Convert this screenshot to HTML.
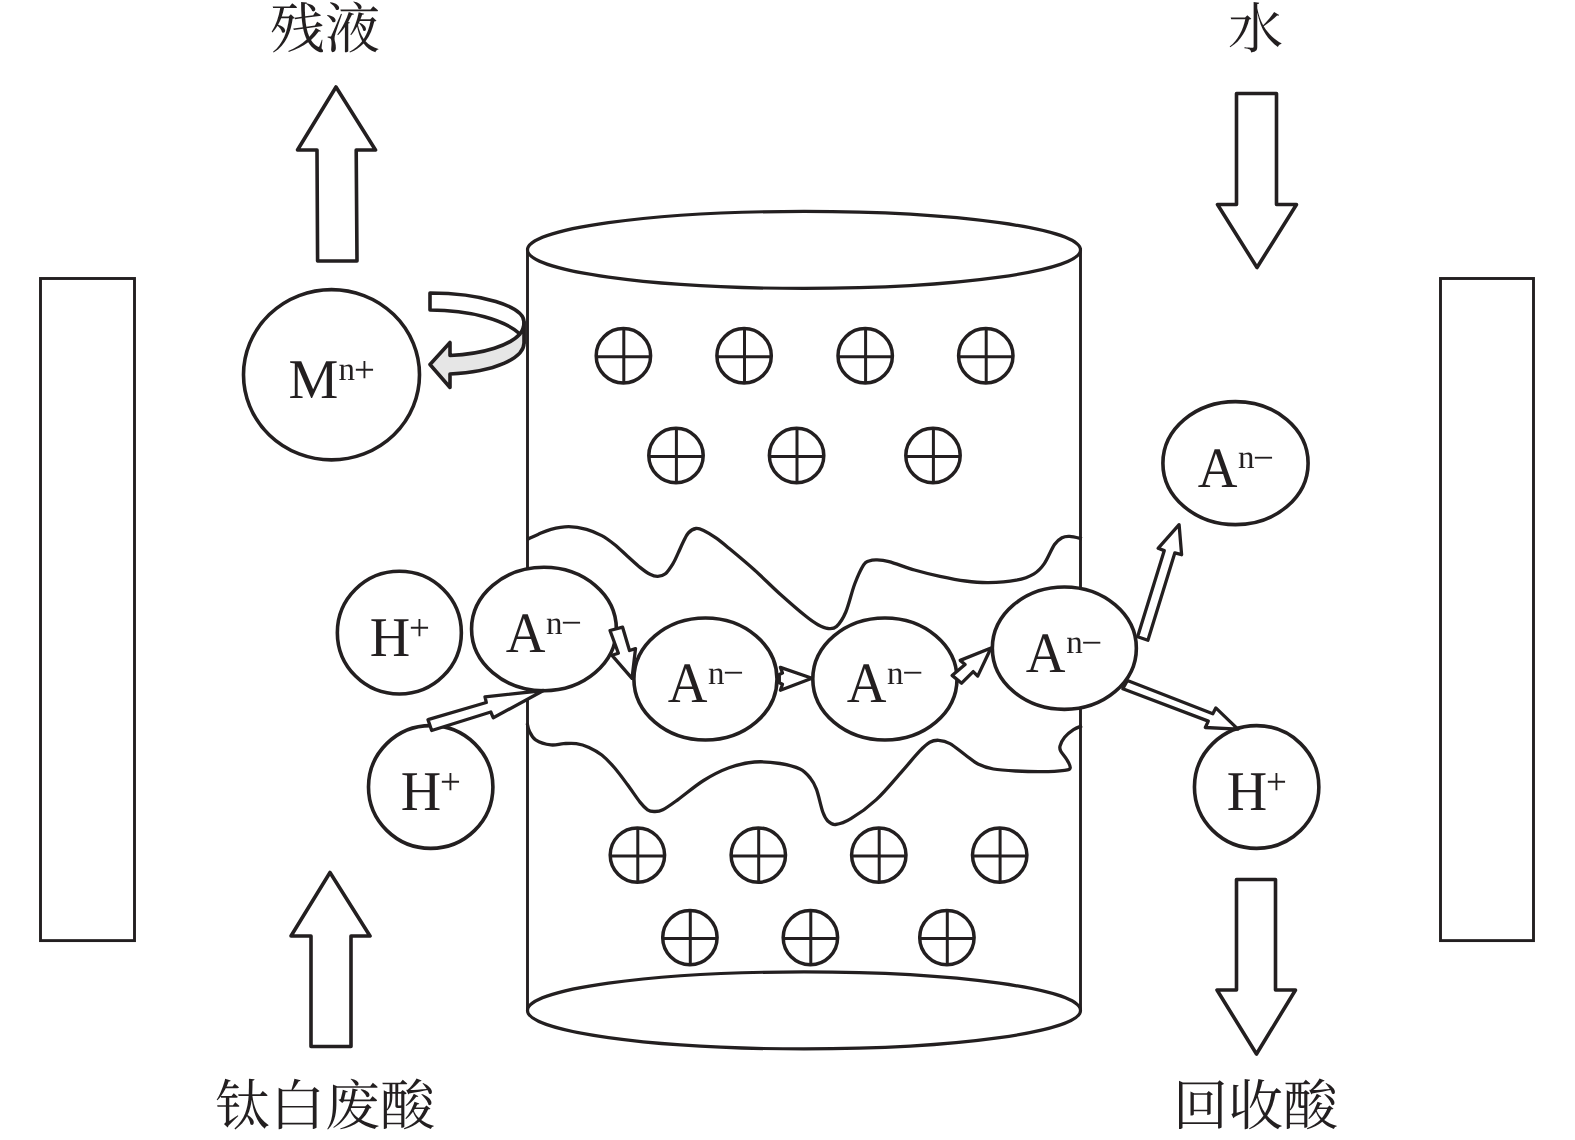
<!DOCTYPE html>
<html lang="zh">
<head>
<meta charset="utf-8">
<title>扩散渗析原理示意图</title>
<style>
html,body{margin:0;padding:0;background:#fff;}
body{width:1575px;height:1140px;overflow:hidden;}
svg{display:block;}
.s{fill:none;stroke:#231f20;stroke-width:3.5;stroke-linejoin:round;stroke-linecap:round;}
.c{stroke-width:3;stroke-linecap:butt;}
.v{fill:none;stroke:#231f20;stroke-width:3.3;stroke-linejoin:round;stroke-linecap:butt;}
.t{fill:none;stroke:#231f20;stroke-width:2.9;}
.e{fill:#fff;stroke:#231f20;stroke-width:3.2;}
.w{fill:#fff;stroke:#231f20;stroke-width:3.6;stroke-linejoin:round;}
.a{fill:#fff;stroke:#231f20;stroke-width:3.3;stroke-linejoin:round;}
.g{fill:#e6e6e6;stroke:#231f20;stroke-width:3.6;stroke-linejoin:round;}
text{font-family:"Liberation Serif","Noto Serif CJK SC",serif;fill:#231f20;text-rendering:geometricPrecision;}
.cj{font-size:55px;}
.su{font-size:33px;}
.sg{font-size:37px;}
</style>
</head>
<body>
<svg width="1575" height="1140" viewBox="0 0 1575 1140">
<rect x="0" y="0" width="1575" height="1140" fill="#fff"/>

<!-- electrodes -->
<rect class="t" x="40.5" y="278.5" width="94" height="662.1"/>
<rect class="t" x="1440.5" y="278.5" width="93" height="662.1"/>
<!-- membrane cylinder -->
<line class="t" x1="527.5" y1="248" x2="527.5" y2="1010"/>
<line class="t" x1="1080.5" y1="248" x2="1080.5" y2="1010"/>
<ellipse class="e" cx="804" cy="249.9" rx="276.5" ry="38.5"/>
<ellipse class="e" cx="804" cy="1010.4" rx="276.5" ry="38.5"/>
<!-- channel walls -->
<path class="v" d="M527.2,539.4 C529.0,538.6 534.0,536.1 538.0,534.4 C542.0,532.7 545.9,530.6 551.0,529.3 C556.1,528.0 562.8,526.7 568.7,526.7 C574.6,526.7 581.0,527.8 586.5,529.3 C592.0,530.8 597.1,533.1 601.8,535.6 C606.5,538.1 610.3,541.1 614.5,544.5 C618.7,547.9 623.0,552.2 627.2,556.0 C631.5,559.8 636.2,564.4 640.0,567.4 C643.8,570.4 647.0,572.8 650.0,574.3 C653.0,575.8 655.2,576.4 657.8,576.3 C660.4,576.2 662.9,575.9 665.4,573.8 C667.9,571.7 670.9,567.0 673.0,563.6 C675.1,560.2 676.3,557.0 678.0,553.4 C679.7,549.8 681.5,545.4 683.2,542.0 C684.9,538.6 686.2,535.2 688.3,533.0 C690.4,530.8 693.5,528.9 696.0,528.5 C698.5,528.1 700.2,528.9 703.6,530.5 C707.0,532.1 712.1,535.2 716.3,538.2 C720.5,541.2 722.6,543.0 729.0,548.3 C735.4,553.6 746.0,562.4 754.5,570.0 C763.0,577.6 771.5,586.4 780.0,594.0 C788.5,601.6 799.0,610.7 805.3,615.8 C811.6,620.9 814.2,622.6 818.0,624.7 C821.8,626.8 825.1,628.2 828.2,628.5 C831.3,628.8 833.6,629.2 836.5,626.5 C839.4,623.8 842.8,619.1 845.8,612.0 C848.8,604.9 851.7,591.9 854.7,584.0 C857.7,576.1 861.2,568.7 863.6,564.9 C866.0,561.1 866.8,561.9 869.0,561.0 C871.2,560.1 873.3,559.7 876.6,559.8 C879.9,559.9 882.7,559.9 889.0,561.6 C895.3,563.3 906.0,567.5 914.5,570.0 C923.0,572.5 931.5,574.5 940.0,576.3 C948.5,578.1 957.4,579.9 965.4,581.0 C973.4,582.1 979.8,582.8 988.3,582.7 C996.8,582.6 1008.7,581.7 1016.3,580.2 C1023.9,578.7 1029.3,576.6 1034.0,573.8 C1038.7,571.0 1040.9,568.5 1044.3,563.6 C1047.7,558.7 1051.5,548.8 1054.5,544.5 C1057.5,540.2 1059.5,539.1 1062.0,537.7 C1064.5,536.4 1066.4,536.2 1069.7,536.4 C1073.0,536.6 1080.0,538.3 1082.0,538.7"/>
<path class="v" d="M527.2,723.3 C527.6,724.6 527.9,728.1 529.3,730.9 C530.7,733.6 532.0,737.5 535.6,739.8 C539.2,742.1 546.3,744.3 551.0,744.9 C555.7,745.5 559.4,743.8 563.6,743.6 C567.8,743.4 572.1,743.0 576.3,743.6 C580.5,744.2 584.8,745.5 589.0,747.4 C593.2,749.3 597.5,751.6 601.8,755.0 C606.0,758.4 610.3,762.9 614.5,767.8 C618.7,772.7 623.0,778.6 627.2,784.3 C631.5,790.0 636.6,797.9 640.0,802.1 C643.4,806.4 645.3,808.2 647.6,809.8 C649.9,811.4 651.5,811.5 654.0,811.5 C656.5,811.5 658.8,811.8 662.8,809.8 C666.8,807.8 671.2,804.5 678.0,799.6 C684.8,794.7 695.1,785.8 703.6,780.5 C712.1,775.2 720.5,770.9 729.0,767.8 C737.5,764.7 746.0,762.7 754.5,762.0 C763.0,761.3 772.4,762.3 780.0,763.5 C787.6,764.7 795.0,766.6 800.0,769.0 C805.0,771.4 807.5,774.6 810.2,778.0 C813.0,781.4 814.4,783.7 816.5,789.4 C818.6,795.1 821.0,807.0 822.9,812.3 C824.8,817.6 825.9,819.2 828.0,821.2 C830.1,823.2 831.8,824.9 835.6,824.5 C839.4,824.1 844.1,822.9 850.9,818.7 C857.7,814.6 867.8,807.5 876.3,799.6 C884.8,791.8 894.6,779.7 901.8,771.6 C909.0,763.5 914.9,756.1 919.6,751.2 C924.3,746.3 926.6,744.1 929.8,742.3 C933.0,740.5 935.3,740.1 938.7,740.3 C942.1,740.5 945.5,741.1 950.0,743.6 C954.5,746.1 960.7,751.6 965.4,755.0 C970.1,758.4 973.3,761.7 978.0,764.0 C982.7,766.3 987.0,767.8 993.4,769.0 C999.8,770.2 1008.2,770.6 1016.3,771.0 C1024.3,771.4 1033.7,771.7 1041.7,771.6 C1049.8,771.5 1059.8,770.9 1064.6,770.3 C1069.3,769.7 1069.8,769.5 1070.2,767.8 C1070.6,766.1 1068.8,763.0 1067.2,760.2 C1065.6,757.4 1062.0,753.5 1060.8,751.2 C1059.6,748.9 1059.4,748.5 1060.0,746.2 C1060.6,743.9 1062.3,740.1 1064.6,737.3 C1066.8,734.5 1070.6,731.5 1073.5,729.6 C1076.4,727.7 1080.6,726.4 1082.0,725.8"/>
<!-- fixed positive charges -->
<g class="s" transform="translate(623.4,355.7)"><circle r="27.2"/><path class="c" d="M-27.2,1H27.2 M0.4,-27.2V27.2"/></g>
<g class="s" transform="translate(744.1,355.7)"><circle r="27.2"/><path class="c" d="M-27.2,1H27.2 M0.4,-27.2V27.2"/></g>
<g class="s" transform="translate(865.2,355.7)"><circle r="27.2"/><path class="c" d="M-27.2,1H27.2 M0.4,-27.2V27.2"/></g>
<g class="s" transform="translate(985.8,355.7)"><circle r="27.2"/><path class="c" d="M-27.2,1H27.2 M0.4,-27.2V27.2"/></g>
<g class="s" transform="translate(676,455.5)"><circle r="27.2"/><path class="c" d="M-27.2,1H27.2 M0.4,-27.2V27.2"/></g>
<g class="s" transform="translate(796.6,455.5)"><circle r="27.2"/><path class="c" d="M-27.2,1H27.2 M0.4,-27.2V27.2"/></g>
<g class="s" transform="translate(933,455.5)"><circle r="27.2"/><path class="c" d="M-27.2,1H27.2 M0.4,-27.2V27.2"/></g>
<g class="s" transform="translate(637.4,855.1)"><circle r="27.2"/><path class="c" d="M-27.2,1H27.2 M0.4,-27.2V27.2"/></g>
<g class="s" transform="translate(758.3,855.1)"><circle r="27.2"/><path class="c" d="M-27.2,1H27.2 M0.4,-27.2V27.2"/></g>
<g class="s" transform="translate(878.8,855.1)"><circle r="27.2"/><path class="c" d="M-27.2,1H27.2 M0.4,-27.2V27.2"/></g>
<g class="s" transform="translate(999.7,855.1)"><circle r="27.2"/><path class="c" d="M-27.2,1H27.2 M0.4,-27.2V27.2"/></g>
<g class="s" transform="translate(689.9,937.6)"><circle r="27.2"/><path class="c" d="M-27.2,1H27.2 M0.4,-27.2V27.2"/></g>
<g class="s" transform="translate(810.4,937.6)"><circle r="27.2"/><path class="c" d="M-27.2,1H27.2 M0.4,-27.2V27.2"/></g>
<g class="s" transform="translate(946.9,937.6)"><circle r="27.2"/><path class="c" d="M-27.2,1H27.2 M0.4,-27.2V27.2"/></g>
<!-- block arrows -->
<path class="w" d="M336,87 L375.5,150 L356.2,150 L357,261 L317.6,261 L317,150 L297.5,150 Z"/>
<path class="w" d="M1236.5,93.5 L1276.5,93.5 L1276.5,204.5 L1296.5,204.5 L1257,267.5 L1217.5,204.5 L1236.5,204.5 Z"/>
<path class="w" d="M330,872.5 L370,936 L351,936 L351,1046.5 L311,1046.5 L311,936 L291,936 Z"/>
<path class="w" d="M1236.5,879.5 L1275.5,879.5 L1275.5,990 L1295.5,990 L1256.5,1054 L1217,990 L1236.5,990 Z"/>
<!-- curved arrow -->
<path class="w" d="M430,293 C480,293 524,306 524,322 L524,343 C524,338 522,336 520,334 C505,320 470,310 430,310 Z"/>
<path class="g" d="M524,322 L524,343 C524,358 495,372 450,374 L450,387.5 L430,364.5 L450,342.5 L450,355.5 C485,354 510,345 520,334 C523,330 524,326 524,322 Z"/>
<!-- ions -->
<ellipse class="w" cx="331.5" cy="374.75" rx="88" ry="85.1"/>
<ellipse class="w" cx="399.35" cy="632.65" rx="62" ry="61.35"/>
<ellipse class="w" cx="430.7" cy="787" rx="62.2" ry="61.35"/>
<ellipse class="w" cx="1256.65" cy="787" rx="62.2" ry="61.35"/>
<ellipse class="w" cx="1235.5" cy="463.15" rx="72.6" ry="61.5"/>
<ellipse class="w" cx="543.95" cy="629" rx="72.4" ry="61.7"/>
<ellipse class="w" cx="705.45" cy="679" rx="71.55" ry="61"/>
<ellipse class="w" cx="884.9" cy="679" rx="72.1" ry="61"/>
<ellipse class="w" cx="1064.35" cy="648.2" rx="72" ry="61.15"/>
<!-- small arrows -->
<path class="a" d="M428,719.7 L486.3,702.5 L485,696.8 L543.5,690.5 L493.3,717.8 L490.8,712 L431.7,730.5 Z"/>
<path class="a" d="M610,630.5 L622.6,627.2 L629.5,650.5 L635.5,648.6 L632,678.4 L612,655.3 L618.4,653.2 Z"/>
<path class="a" d="M779.3,674.4 L782.5,673 L780.4,667.4 L812,678.2 L780.4,690.2 L782.5,684.2 L779.3,682.8 Z"/>
<path class="a" d="M952.1,675.4 L961.6,683.2 L973.2,671.6 L977.7,676.1 L991,648 L960.2,660.4 L965.1,664.6 Z"/>
<path class="a" d="M1137.6,636.8 L1147.9,640.2 L1174.8,552.9 L1181.6,554.7 L1179.1,524.6 L1158.1,548.3 L1164.3,550.6 Z"/>
<path class="a" d="M1127.4,680.5 L1122.8,688.7 L1208.3,721.1 L1205.3,727.5 L1237.9,729.1 L1215.8,707.9 L1212.8,713.8 Z"/>
<!-- ion labels -->
<g style="will-change:opacity">
<text x="288.5" y="397.5" font-size="56">M</text><text class="su" x="338.4" y="380">n</text><text class="sg" x="354" y="381.7">+</text>
<text x="369.7" y="655.6" font-size="56">H</text><text class="sg" x="409" y="639.8">+</text>
<text x="400.8" y="809.8" font-size="56">H</text><text class="sg" x="440" y="793.75">+</text>
<text x="1226.7" y="809.8" font-size="56">H</text><text class="sg" x="1266" y="793.75">+</text>
<text transform="translate(1197.7,486.6) scale(1,1.04)" font-size="55">A</text><text class="su" x="1238" y="468.3">n</text><text class="sg" x="1253" y="469.8">−</text>
<text transform="translate(505.8,651.6) scale(1,1.04)" font-size="55">A</text><text class="su" x="546.1" y="633.7">n</text><text class="sg" x="561" y="635.4">−</text>
<text transform="translate(667.8,701.6) scale(1,1.04)" font-size="55">A</text><text class="su" x="707.9" y="683.7">n</text><text class="sg" x="723" y="685.4">−</text>
<text transform="translate(846.8,701.6) scale(1,1.04)" font-size="55">A</text><text class="su" x="887" y="683.7">n</text><text class="sg" x="902.3" y="685.4">−</text>
<text transform="translate(1025.8,671.6) scale(1,1.04)" font-size="55">A</text><text class="su" x="1066.3" y="653.2">n</text><text class="sg" x="1081.3" y="654.7">−</text>
</g>
<!-- captions -->
<g style="will-change:opacity">
<text class="cj" x="270" y="48">残液</text>
<text class="cj" x="1228" y="48">水</text>
<text class="cj" x="215" y="1125.4">钛白废酸</text>
<text class="cj" x="1173" y="1125.4">回收酸</text>
</g>
</svg>
</body>
</html>
